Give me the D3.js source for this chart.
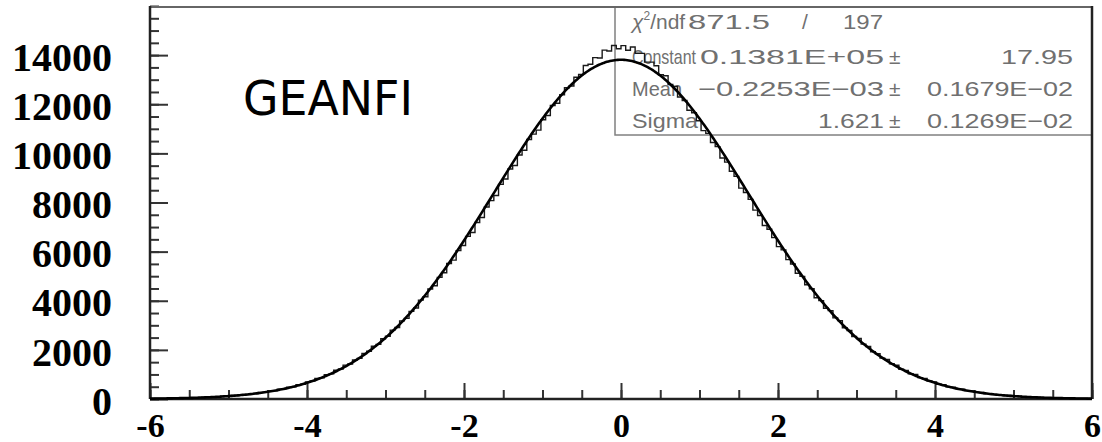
<!DOCTYPE html>
<html lang="fr">
<head>
  <meta charset="UTF-8">
  <title>GEANFI</title>
  <script src="https://d3js.org/d3.v7.min.js"></script>
  <style>
    body { margin: 0; background: #fff; }
    svg { display: block; }
  </style>
</head>
<body>
<svg id="chart" width="1102" height="442"></svg>
<script>
  // Bornes de l'histogramme : 200 bins de -6 a 6
  const binLo = -6, binHi = 6, nBins = 200;

  // Contenu des bins (de gauche a droite)
  const countsLeft = [
    16, 20, 20, 27, 25, 33, 35, 45, 43, 55,
    55, 73, 73, 90, 90, 113, 115, 142, 145, 176,
    179, 218, 221, 270, 278, 326, 337, 399, 416, 483,
    499, 584, 598, 692, 735, 838, 867, 985, 1024, 1170,
    1221, 1379, 1423, 1590, 1653, 1854, 1943, 2149, 2223, 2456,
    2557, 2806, 2913, 3179, 3283, 3566, 3707, 4026, 4164, 4479,
    4612, 4952, 5140, 5514, 5654, 6041, 6252, 6619, 6779, 7183,
    7390, 7818, 8077, 8287, 8736, 8955, 9361, 9504, 9933, 10126,
    10564, 10784, 10947, 11371, 11545, 11948, 12040, 12388, 12674, 12745,
    13102, 13213, 13578, 13626, 13897, 13880, 14205, 14171, 14389, 14258
  ];
  const countsRight = [
    14388, 14199, 14331, 14075, 14070, 13717, 13716, 13568, 13203, 13162,
    12805, 12724, 12298, 12150, 11758, 11655, 11331, 10927, 10814, 10444,
    10276, 9813, 9644, 9271, 9065, 8586, 8407, 8127, 7688, 7470,
    7063, 6909, 6569, 6202, 6071, 5674, 5494, 5120, 4992, 4652,
    4489, 4124, 4006, 3697, 3596, 3303, 3189, 2903, 2786, 2547,
    2466, 2233, 2139, 1923, 1844, 1663, 1610, 1433, 1374, 1211,
    1165, 1029, 995, 872, 833, 730, 697, 603, 579, 494,
    478, 411, 402, 339, 328, 276, 268, 219, 216, 180,
    177, 144, 141, 114, 114, 91, 90, 72, 72, 56,
    56, 44, 44, 34, 34, 26, 26, 19, 21, 15
  ];
  const counts = countsLeft.concat(countsRight);

  // Parametres du fit gaussien (boite de stats)
  const fitConstant = 13810;
  const fitMean = -0.2253e-3;
  const fitSigma = 1.621;

  const xMajorTicks = [-6, -4, -2, 0, 2, 4, 6];
  const yMajorTicks = [0, 2000, 4000, 6000, 8000, 10000, 12000, 14000];

  const statsRows = [
    { name: "Constant", value: "0.1381E+05", error: "17.95" },
    { name: "Mean", value: "\u22120.2253E\u221203", error: "0.1679E\u221202" },
    { name: "Sigma", value: "1.621", error: "0.1269E\u221202" }
  ];
  const chi2 = "871.5", ndf = "197";

  const frame = { left: 150, right: 1092, top: 6, bottom: 399 };

  const svg = d3.select("#chart");

  const x = d3.scaleLinear().domain([binLo, binHi]).range([frame.left, frame.right]);
  const y = d3.scaleLinear().domain([0, 16000]).range([frame.bottom, frame.top]);

  // Boite de stats (dessinee avant les courbes)
  const box = svg.append("g");
  box.append("rect")
     .attr("x", 615).attr("y", frame.top + 1)
     .attr("width", frame.right - 615).attr("height", 128)
     .attr("fill", "none")
     .attr("stroke", "#808080")
     .attr("stroke-width", 1.5);

  const statFont = "'Liberation Sans', Arial, sans-serif";
  // largeur imposee : la police HIGZ est large
  const txt = (s, px, py, anchor, len) => {
    const t = box.append("text")
      .attr("x", px).attr("y", py)
      .attr("text-anchor", anchor || "start")
      .attr("font-family", statFont)
      .attr("font-size", 21)
      .attr("fill", "#707070")
      .text(s);
    if (len) t.attr("textLength", len).attr("lengthAdjust", "spacingAndGlyphs");
    return t;
  };

  const chiText = txt("", 632, 29);
  chiText.append("tspan").attr("font-style", "italic").text("\u03C7");
  chiText.append("tspan").attr("font-size", 12).attr("dy", -9).text("2");
  chiText.append("tspan").attr("dy", 9).text("/ndf");
  txt(chi2, 770, 29, "end", 82);
  txt("/", 802, 29);
  txt(ndf, 883, 29, "end", 40);

  const nameLen = [64, 50, 66];
  const valueLen = [184, 186, 66];
  const errorLen = [72, 146, 146];
  statsRows.forEach((r, i) => {
    const by = 64 + i * 32;
    txt(r.name, 632, by, "start", nameLen[i]);
    txt(r.value, 884, by, "end", valueLen[i]);
    txt("\u00B1", 889, by);
    txt(r.error, 1073, by, "end", errorLen[i]);
  });

  // Graduations
  const axisFont = "'Liberation Serif', 'Times New Roman', serif";

  const xMinor = d3.range(-6, 6.001, 0.5);
  svg.append("g")
     .attr("transform", `translate(0,${frame.bottom})`)
     .call(d3.axisBottom(x).tickValues(xMinor).tickSize(-9).tickFormat(""))
     .call(g => g.select(".domain").remove())
     .selectAll("line").attr("stroke", "#333").attr("stroke-width", 2);

  svg.append("g")
     .attr("transform", `translate(0,${frame.bottom})`)
     .call(d3.axisBottom(x).tickValues(xMajorTicks).tickSize(-16).tickFormat(d => String(d)))
     .call(g => g.select(".domain").remove())
     .call(g => g.selectAll("line").attr("stroke", "#333").attr("stroke-width", 2))
     .selectAll("text")
       .attr("y", 38).attr("dy", null)
       .attr("font-family", axisFont)
       .attr("font-weight", "bold")
       .attr("font-size", 34)
       .attr("fill", "#000");

  const yMinor = d3.range(0, 16001, 500);
  svg.append("g")
     .attr("transform", `translate(${frame.left},0)`)
     .call(d3.axisLeft(y).tickValues(yMinor).tickSize(-9).tickFormat(""))
     .call(g => g.select(".domain").remove())
     .selectAll("line").attr("stroke", "#333").attr("stroke-width", 2);

  svg.append("g")
     .attr("transform", `translate(${frame.left},0)`)
     .call(d3.axisLeft(y).tickValues(yMajorTicks).tickSize(-18).tickFormat(d => String(d)))
     .call(g => g.select(".domain").remove())
     .call(g => g.selectAll("line").attr("stroke", "#333").attr("stroke-width", 2))
     .selectAll("text")
       .attr("x", -38).attr("dy", "0.38em")
       .attr("font-family", axisFont)
       .attr("font-weight", "bold")
       .attr("font-size", 40)
       .attr("fill", "#000");

  // Cadre
  svg.append("line").attr("x1", frame.left).attr("x2", frame.right)
     .attr("y1", frame.top + 1).attr("y2", frame.top + 1)
     .attr("stroke", "#666").attr("stroke-width", 2);
  svg.append("line").attr("x1", frame.left).attr("x2", frame.right)
     .attr("y1", frame.bottom).attr("y2", frame.bottom)
     .attr("stroke", "#222").attr("stroke-width", 2.5);
  svg.append("line").attr("x1", frame.left).attr("x2", frame.left)
     .attr("y1", frame.top).attr("y2", frame.bottom)
     .attr("stroke", "#222").attr("stroke-width", 2.5);
  svg.append("line").attr("x1", frame.right).attr("x2", frame.right)
     .attr("y1", frame.top).attr("y2", frame.bottom)
     .attr("stroke", "#222").attr("stroke-width", 2.5);

  // Histogramme en marches
  const binWidth = (binHi - binLo) / nBins;
  const steps = counts.map((c, i) => [binLo + i * binWidth, c]);
  steps.push([binHi, counts[counts.length - 1]]);

  svg.append("path")
     .datum(steps)
     .attr("fill", "none")
     .attr("stroke", "#1a1a1a")
     .attr("stroke-width", 1.4)
     .attr("d", d3.line()
        .x(d => x(d[0]))
        .y(d => y(d[1]))
        .curve(d3.curveStepAfter));

  // Courbe du fit gaussien
  const fitX = d3.range(binLo, binHi + 0.0001, 0.02);
  svg.append("path")
     .datum(fitX)
     .attr("fill", "none")
     .attr("stroke", "#000")
     .attr("stroke-width", 2.6)
     .attr("d", d3.line()
        .x(d => x(d))
        .y(d => y(fitConstant * Math.exp(-0.5 * ((d - fitMean) / fitSigma) ** 2))));

  // Etiquette
  svg.append("text")
     .attr("x", 243).attr("y", 115)
     .attr("font-family", "'DejaVu Sans', sans-serif")
     .attr("font-size", 48)
     .attr("textLength", 170)
     .attr("lengthAdjust", "spacingAndGlyphs")
     .attr("fill", "#000")
     .text("GEANFI");
</script>
</body>
</html>
